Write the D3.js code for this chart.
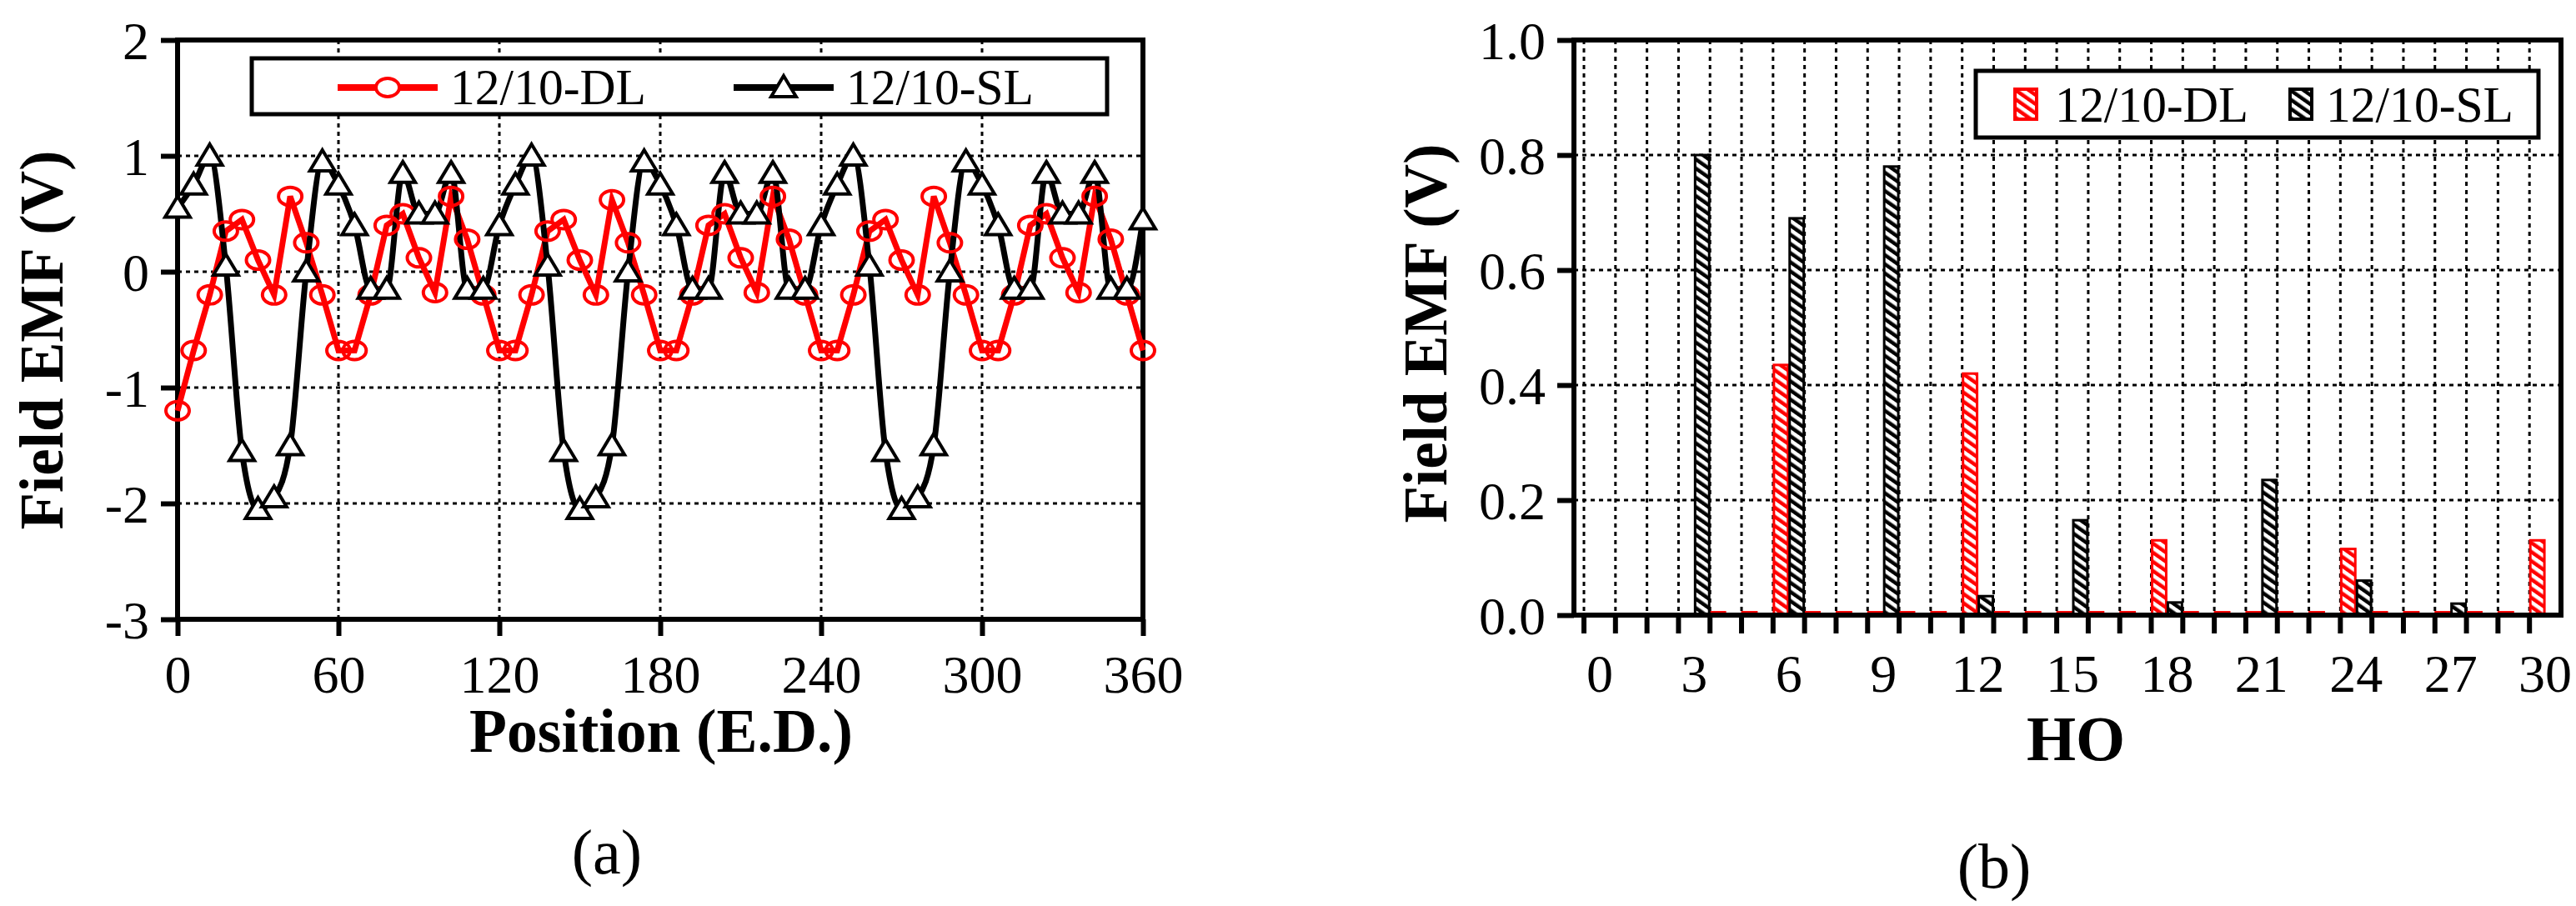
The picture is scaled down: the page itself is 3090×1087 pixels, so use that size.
<!DOCTYPE html>
<html><head><meta charset="utf-8">
<script src="https://cdn.jsdelivr.net/npm/d3@7"></script>
<style>body{margin:0;background:#fff}svg{display:block}text{font-family:"Liberation Serif","Times New Roman",serif}</style>
</head><body><svg id="c" width="3090" height="1087"></svg>
<script>
const positions = d3.range(0, 361, 6);
const dlValues = [-1.2,-0.68,-0.2,0.35,0.45,0.1,-0.2,0.65,0.25,-0.2,
 -0.68,-0.68,-0.2,0.4,0.5,0.12,-0.18,0.65,0.28,-0.2,
 -0.68,-0.68,-0.2,0.35,0.45,0.1,-0.2,0.62,0.25,-0.2,
 -0.68,-0.68,-0.2,0.4,0.5,0.12,-0.18,0.65,0.28,-0.2,
 -0.68,-0.68,-0.2,0.35,0.45,0.1,-0.2,0.65,0.25,-0.2,
 -0.68,-0.68,-0.2,0.4,0.5,0.12,-0.18,0.65,0.28,-0.2,-0.68];
const slValues = [0.55,0.75,1.0,0.05,-1.55,-2.05,-1.95,-1.5,0.0,0.95,
 0.75,0.4,-0.15,-0.15,0.85,0.5,0.5,0.85,-0.15,-0.15,
 0.4,0.75,1.0,0.05,-1.55,-2.05,-1.95,-1.5,0.0,0.95,
 0.75,0.4,-0.15,-0.15,0.85,0.5,0.5,0.85,-0.15,-0.15,
 0.4,0.75,1.0,0.05,-1.55,-2.05,-1.95,-1.5,0.0,0.95,
 0.75,0.4,-0.15,-0.15,0.85,0.5,0.5,0.85,-0.15,-0.15,0.45];
const xTicksA = [0,60,120,180,240,300,360];
const yTicksA = [-3,-2,-1,0,1,2];
const harmonics = d3.range(0, 31);
const dlHarm = [0,0,0,0,0.005,0.005,0.435,0.005,0.005,0.005,0.005,0.005,0.42,0.005,0.005,0.005,0.005,0.005,0.13,0.005,0.005,0.005,0.005,0.005,0.115,0.005,0.005,0.005,0.005,0.005,0.13];
const slHarm = [0,0,0,0.8,0.002,0.002,0.69,0.002,0.002,0.78,0.002,0.002,0.033,0.002,0.002,0.165,0.002,0.002,0.022,0.002,0.002,0.235,0.002,0.002,0.06,0.002,0.002,0.02,0.002,0.002,0.002];
const xTicksB = [0,3,6,9,12,15,18,21,24,27,30];
const yTicksB = [0,0.2,0.4,0.6,0.8,1.0];
const seriesNames = ["12/10-DL","12/10-SL"];
const RED="#ff0000", BLK="#000";
const FONT = '"Liberation Serif","Times New Roman",serif';

const svg = d3.select("#c");
const defs = svg.append("defs");
[["hatchR",RED],["hatchK",BLK]].forEach(([id,c])=>{
  const p = defs.append("pattern").attr("id",id).attr("patternUnits","userSpaceOnUse")
    .attr("width",9).attr("height",9).attr("patternTransform","rotate(-55)");
  p.append("rect").attr("width",9).attr("height",9).attr("fill","#fff");
  p.append("rect").attr("x",0).attr("y",0).attr("width",4.5).attr("height",9).attr("fill",c);
});

// ---------- chart (a)
const xA = d3.scaleLinear().domain([0,360]).range([213,1371]);
const yA = d3.scaleLinear().domain([-3,2]).range([743,48]);
const gA = svg.append("g");
gA.selectAll(".gy").data(yTicksA.filter(v=>v>-3&&v<2)).join("line")
  .attr("x1",xA(0)).attr("x2",xA(360)).attr("y1",d=>yA(d)).attr("y2",d=>yA(d))
  .attr("stroke","#000").attr("stroke-width",3).attr("stroke-dasharray","5,5");
gA.selectAll(".gx").data(xTicksA.filter(v=>v>0&&v<360)).join("line")
  .attr("x1",d=>xA(d)).attr("x2",d=>xA(d)).attr("y1",yA(2)).attr("y2",yA(-3))
  .attr("stroke","#000").attr("stroke-width",3).attr("stroke-dasharray","5,5");
gA.append("rect").attr("x",xA(0)).attr("y",yA(2)).attr("width",xA(360)-xA(0)).attr("height",yA(-3)-yA(2))
  .attr("fill","none").attr("stroke","#000").attr("stroke-width",6);
const axLA = gA.append("g").attr("transform",`translate(${xA(0)},0)`)
  .call(d3.axisLeft(yA).tickValues(yTicksA).tickSize(20).tickPadding(14).tickFormat(d=>String(d).replace("−","-")));
const axBA = gA.append("g").attr("transform",`translate(0,${yA(-3)})`)
  .call(d3.axisBottom(xA).tickValues(xTicksA).tickSize(20).tickPadding(14));
[axLA,axBA].forEach(a=>{a.attr("font-family",FONT);a.select(".domain").remove();
  a.selectAll("line").attr("stroke-width",6);
  a.selectAll("text").attr("font-size",64).attr("fill","#000").attr("font-family",FONT);});
axLA.selectAll("text").attr("dy","0.35em");
axBA.selectAll("text").attr("dy","0.85em");

const line = d3.line().x((d,i)=>xA(positions[i])).y(d=>yA(d));
gA.append("path").datum(dlValues).attr("d",line).attr("fill","none").attr("stroke",RED).attr("stroke-width",7);
gA.append("path").datum(slValues).attr("d",line.curve(d3.curveMonotoneX)).attr("fill","none").attr("stroke",BLK).attr("stroke-width",7);
gA.selectAll(".dlm").data(dlValues).join("ellipse")
  .attr("cx",(d,i)=>xA(positions[i])).attr("cy",d=>yA(d)).attr("rx",14).attr("ry",11)
  .attr("fill","none").attr("stroke",RED).attr("stroke-width",4);
const tri = (cx,cy)=>`M${cx},${cy-14}L${cx+15},${cy+11}L${cx-15},${cy+11}Z`;
gA.selectAll(".slm").data(slValues).join("path")
  .attr("d",(d,i)=>tri(xA(positions[i]),yA(d)))
  .attr("fill","#fff").attr("stroke",BLK).attr("stroke-width",4);
// legend a
gA.append("rect").attr("x",302).attr("y",70).attr("width",1026).attr("height",67)
  .attr("fill","#fff").attr("stroke","#000").attr("stroke-width",5);
gA.append("line").attr("x1",405).attr("x2",525).attr("y1",105).attr("y2",105).attr("stroke",RED).attr("stroke-width",8);
gA.append("ellipse").attr("cx",465).attr("cy",105).attr("rx",14).attr("ry",11).attr("fill","#fff").attr("stroke",RED).attr("stroke-width",4);
gA.append("text").attr("x",540).attr("y",125).attr("font-size",62).attr("textLength",235).attr("lengthAdjust","spacingAndGlyphs").text(seriesNames[0]);
gA.append("line").attr("x1",880).attr("x2",1000).attr("y1",105).attr("y2",105).attr("stroke",BLK).attr("stroke-width",8);
gA.append("path").attr("d",tri(940,105)).attr("fill","#fff").attr("stroke",BLK).attr("stroke-width",4);
gA.append("text").attr("x",1015).attr("y",125).attr("font-size",62).attr("textLength",225).attr("lengthAdjust","spacingAndGlyphs").text(seriesNames[1]);
gA.append("text").attr("transform","translate(75,408) rotate(-90)").attr("text-anchor","middle")
  .attr("font-size",74).attr("font-weight","bold").attr("textLength",455).attr("lengthAdjust","spacingAndGlyphs").text("Field EMF (V)");
gA.append("text").attr("x",793).attr("y",902).attr("text-anchor","middle").attr("font-size",74).attr("font-weight","bold")
  .attr("textLength",460).attr("lengthAdjust","spacingAndGlyphs").text("Position (E.D.)");
gA.append("text").attr("x",728).attr("y",1048).attr("text-anchor","middle").attr("font-size",76).text("(a)");

// ---------- chart (b)
const xB = d3.scaleBand().domain(harmonics).range([1900,3072]).padding(0);
const yB = d3.scaleLinear().domain([0,1]).range([738,48]);
const bw = xB.bandwidth();
const gB = svg.append("g");
gB.selectAll(".gy").data(yTicksB.filter(v=>v>0&&v<1)).join("line")
  .attr("x1",1888).attr("x2",3072).attr("y1",d=>yB(d)).attr("y2",d=>yB(d))
  .attr("stroke","#000").attr("stroke-width",3).attr("stroke-dasharray","5,5");
gB.selectAll(".gx").data(harmonics).join("line")
  .attr("x1",d=>xB(d)).attr("x2",d=>xB(d)).attr("y1",yB(1)).attr("y2",yB(0))
  .attr("stroke","#000").attr("stroke-width",3).attr("stroke-dasharray","5,5");
gB.selectAll(".tk").data(harmonics).join("line")
  .attr("x1",d=>xB(d)).attr("x2",d=>xB(d)).attr("y1",yB(0)).attr("y2",yB(0)+22)
  .attr("stroke","#000").attr("stroke-width",6);
gB.selectAll(".dl").data(dlHarm).join("rect")
  .attr("x",(d,i)=>xB(harmonics[i])+1).attr("width",bw/2-2)
  .attr("y",d=>yB(d)).attr("height",d=>yB(0)-yB(d))
  .attr("fill","url(#hatchR)").attr("stroke",RED).attr("stroke-width",d=>d>0?3:0);
gB.selectAll(".sl").data(slHarm).join("rect")
  .attr("x",(d,i)=>xB(harmonics[i])+bw/2+1).attr("width",bw/2-2)
  .attr("y",d=>yB(d)).attr("height",d=>yB(0)-yB(d))
  .attr("fill","url(#hatchK)").attr("stroke",BLK).attr("stroke-width",d=>d>0?3:0);
gB.append("rect").attr("x",1888).attr("y",yB(1)).attr("width",3072-1888).attr("height",yB(0)-yB(1))
  .attr("fill","none").attr("stroke","#000").attr("stroke-width",6);
const axLB = gB.append("g").attr("transform","translate(1888,0)")
  .call(d3.axisLeft(yB).tickValues(yTicksB).tickSize(20).tickPadding(14).tickFormat(d3.format(".1f")));
axLB.attr("font-family",FONT);
axLB.select(".domain").remove();
axLB.selectAll("line").attr("stroke-width",6);
axLB.selectAll("text").attr("font-size",64).attr("fill","#000").attr("dy","0.35em").attr("font-family",FONT);
gB.selectAll(".xl").data(xTicksB).join("text")
  .attr("x",d=>xB(d)+bw/2).attr("y",830).attr("text-anchor","middle").attr("font-size",64).text(d=>d);
// legend b
gB.append("rect").attr("x",2370).attr("y",85).attr("width",675).attr("height",80)
  .attr("fill","#fff").attr("stroke","#000").attr("stroke-width",5);
gB.append("rect").attr("x",2417).attr("y",107).attr("width",26).attr("height",36).attr("fill","url(#hatchR)").attr("stroke",RED).attr("stroke-width",4);
gB.append("text").attr("x",2465).attr("y",146).attr("font-size",62).attr("textLength",232).attr("lengthAdjust","spacingAndGlyphs").text(seriesNames[0]);
gB.append("rect").attr("x",2747).attr("y",107).attr("width",26).attr("height",36).attr("fill","url(#hatchK)").attr("stroke",BLK).attr("stroke-width",4);
gB.append("text").attr("x",2790).attr("y",146).attr("font-size",62).attr("textLength",225).attr("lengthAdjust","spacingAndGlyphs").text(seriesNames[1]);
gB.append("text").attr("transform","translate(1735,400) rotate(-90)").attr("text-anchor","middle")
  .attr("font-size",74).attr("font-weight","bold").attr("textLength",455).attr("lengthAdjust","spacingAndGlyphs").text("Field EMF (V)");
gB.append("text").attr("x",2490).attr("y",912).attr("text-anchor","middle").attr("font-size",76).attr("font-weight","bold").text("HO");
gB.append("text").attr("x",2392).attr("y",1065).attr("text-anchor","middle").attr("font-size",76).text("(b)");
</script></body></html>
